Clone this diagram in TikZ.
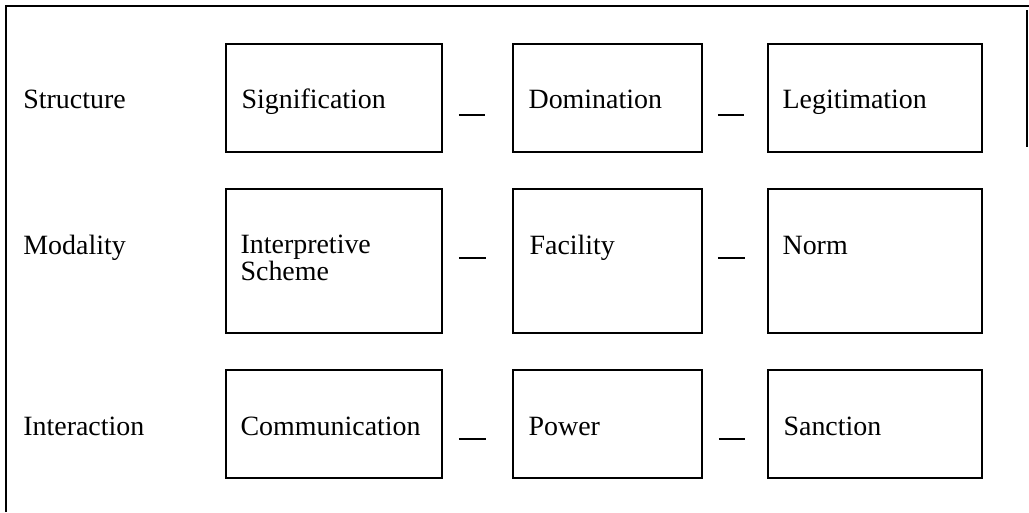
\documentclass[tikz,border=0pt]{standalone}
\usepackage{fontspec}
\setmainfont{Liberation Serif}
\usetikzlibrary{positioning,calc}

\begin{document}
\begin{tikzpicture}[x=0.02cm, y=0.02cm]
\tikzstyle{every node}+=[inner sep=0pt]
\tikzstyle{box}=[draw=black, line width=0.9pt]
\tikzstyle{txt}=[anchor=base west, align=left, font=\fontsize{15.9}{15.2}\selectfont]
\tikzstyle{bar}=[black, line width=0.8pt]
\useasboundingbox (0,0) rectangle (1029,-512);
% frame
\draw [black, line width=0.8pt] (6,-512) -- (6,-6) -- (1029,-6);
\draw [black, line width=0.6pt] (1027,-10) -- (1027,-147);
% row labels
\node [txt] (structure) at (23,-108) {Structure};
\node [txt] (modality) at (23,-254) {Modality};
\node [txt] (interaction) at (23,-435) {Interaction};
% boxes
\node [box, minimum width=4.32cm, minimum height=2.16cm] (sig) at (334,-98) {};
\node [box, minimum width=3.78cm, minimum height=2.16cm] (dom) at (607.5,-98) {};
\node [box, minimum width=4.28cm, minimum height=2.16cm] (leg) at (875,-98) {};
\node [box, minimum width=4.32cm, minimum height=2.88cm] (scheme) at (334,-261) {};
\node [box, minimum width=3.78cm, minimum height=2.88cm] (facility) at (607.5,-261) {};
\node [box, minimum width=4.28cm, minimum height=2.88cm] (norm) at (875,-261) {};
\node [box, minimum width=4.32cm, minimum height=2.16cm] (comm) at (334,-424) {};
\node [box, minimum width=3.78cm, minimum height=2.16cm] (power) at (607.5,-424) {};
\node [box, minimum width=4.28cm, minimum height=2.16cm] (sanction) at (875,-424) {};
% texts
\node [txt] (sig-t) at ($(sig.west)+(16,-10)$) {Signification};
\node [txt] (dom-t) at ($(dom.west)+(16,-10)$) {Domination};
\node [txt] (leg-t) at ($(leg.west)+(15,-10)$) {Legitimation};
\node [txt] (scheme-t) at ($(scheme.west)+(15,-19)$) {Interpretive\\Scheme};
\node [txt] (facility-t) at ($(facility.west)+(17,7)$) {Facility};
\node [txt] (norm-t) at ($(norm.west)+(15,7)$) {Norm};
\node [txt] (comm-t) at ($(comm.west)+(15,-11)$) {Communication};
\node [txt] (power-t) at ($(power.west)+(16,-11)$) {Power};
\node [txt] (sanction-t) at ($(sanction.west)+(16,-11)$) {Sanction};
% dashes
\draw [bar] ($(sig.east)+(16,-17)$) -- ($(dom.west)+(-27,-17)$);
\draw [bar] ($(dom.east)+(15,-17)$) -- ($(leg.west)+(-23,-17)$);
\draw [bar] ($(scheme.east)+(16,3)$) -- ($(facility.west)+(-26,3)$);
\draw [bar] ($(facility.east)+(15,3)$) -- ($(norm.west)+(-22,3)$);
\draw [bar] ($(comm.east)+(16,-15)$) -- ($(power.west)+(-26,-15)$);
\draw [bar] ($(power.east)+(16,-15)$) -- ($(sanction.west)+(-22,-15)$);
\end{tikzpicture}
\end{document}
